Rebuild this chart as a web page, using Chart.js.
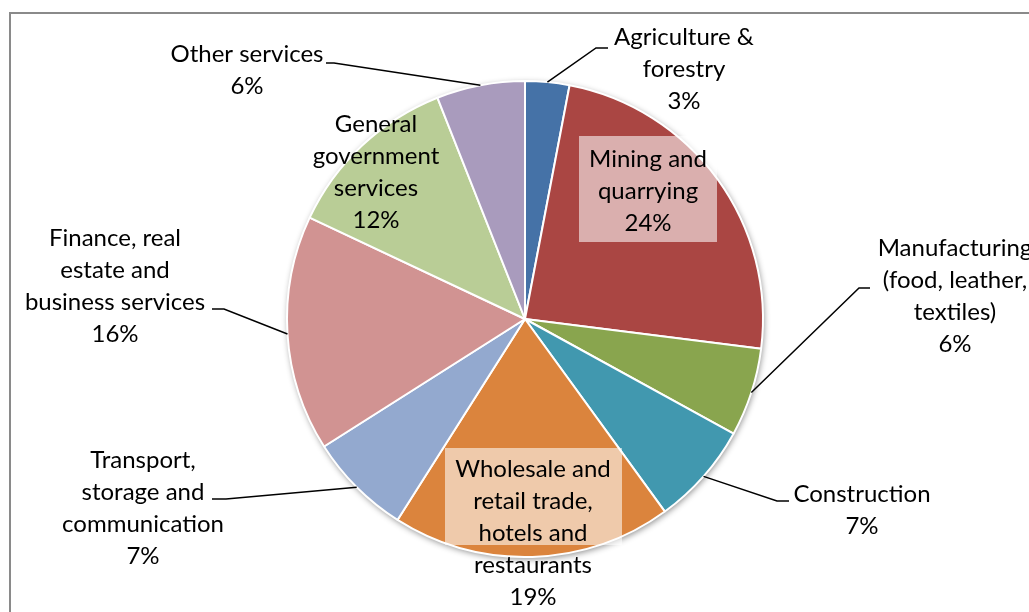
<!DOCTYPE html>
<html>
<head>
<meta charset="utf-8">
<title>Value added by sector</title>
<script src="https://cdn.jsdelivr.net/npm/chart.js@4.4.0/dist/chart.umd.min.js"></script>
<style>
  html, body { margin: 0; padding: 0; background: #fff; }
  canvas { display: block; }
</style>
</head>
<body>
<canvas id="chart" width="1029" height="612"></canvas>
<script>
'use strict';

// sectors and their share of the total (%)
const sectors = [
  'Agriculture & forestry',
  'Mining and quarrying',
  'Manufacturing (food, leather, textiles)',
  'Construction',
  'Wholesale and retail trade, hotels and restaurants',
  'Transport, storage and communication',
  'Finance, real estate and business services',
  'General government services',
  'Other services'
];
const shares = [3, 24, 6, 7, 19, 7, 16, 12, 6];

// how each sector name is broken over lines in its label
const labelLines = [
  ['Agriculture &', 'forestry'],
  ['Mining and', 'quarrying'],
  ['Manufacturing', '(food, leather,', 'textiles)'],
  ['Construction'],
  ['Wholesale and', 'retail trade,', 'hotels and', 'restaurants'],
  ['Transport,', 'storage and', 'communication'],
  ['Finance, real', 'estate and', 'business services'],
  ['General', 'government', 'services'],
  ['Other services']
];

const sliceColors = [
  '#4572A7', '#AA4643', '#89A54E', '#4198AF', '#DB843D',
  '#93A9CF', '#D19392', '#B9CD96', '#A99BBD'
];

// where each label sits: centre x, first line y, optional box, optional leader (elbow, end)
const labelLayout = [
  { cx: 684, y: 37, leader: [[596, 48], [608, 48]] },
  { cx: 648, y: 159, box: [579, 136, 138, 106] },
  { cx: 955, y: 248, leader: [[859, 288], [870, 288]] },
  { cx: 862, y: 494, leader: [[777, 501], [789, 501]] },
  { cx: 533, y: 469, box: [445, 448, 177, 97] },
  { cx: 143, y: 460, leader: [[226, 499], [212, 499]] },
  { cx: 115, y: 238, leader: [[224, 309], [212, 309]] },
  { cx: 376, y: 124 },
  { cx: 247, y: 54, leader: [[334, 63], [326, 63]] }
];

const LINE_H = 32;
const FONT = '24px Lato, "Open Sans", sans-serif';

// grey frame round the chart and a soft shadow under the pie
const framePlugin = {
  id: 'frame',
  beforeDatasetsDraw(chart) {
    const ctx = chart.ctx;
    ctx.save();
    ctx.strokeStyle = '#8a8a8a';
    ctx.lineWidth = 2;
    ctx.strokeRect(10, 13, 1100, 700);
    const arc = chart.getDatasetMeta(0).data[0];
    const p = arc.getProps(['x', 'y', 'outerRadius'], true);
    ctx.beginPath();
    ctx.arc(p.x, p.y, p.outerRadius, 0, Math.PI * 2);
    ctx.fillStyle = '#ffffff';
    ctx.shadowColor = 'rgba(0,0,0,0.45)';
    ctx.shadowBlur = 6;
    ctx.shadowOffsetX = 1;
    ctx.shadowOffsetY = 2;
    ctx.fill();
    ctx.restore();
  }
};

const labelPlugin = {
  id: 'sliceLabels',
  afterDatasetsDraw(chart) {
    const ctx = chart.ctx;
    const arcs = chart.getDatasetMeta(0).data;
    ctx.save();
    ctx.font = FONT;
    ctx.textAlign = 'center';
    ctx.textBaseline = 'middle';
    arcs.forEach((arc, i) => {
      const lay = labelLayout[i];
      const p = arc.getProps(['x', 'y', 'startAngle', 'endAngle', 'outerRadius'], true);
      if (lay.leader) {
        const mid = (p.startAngle + p.endAngle) / 2;
        ctx.beginPath();
        ctx.moveTo(p.x + Math.cos(mid) * p.outerRadius, p.y + Math.sin(mid) * p.outerRadius);
        lay.leader.forEach(pt => ctx.lineTo(pt[0], pt[1]));
        ctx.strokeStyle = '#000';
        ctx.lineWidth = 1.5;
        ctx.stroke();
      }
      if (lay.box) {
        ctx.fillStyle = 'rgba(255,255,255,0.57)';
        ctx.fillRect(lay.box[0], lay.box[1], lay.box[2], lay.box[3]);
      }
      const lines = labelLines[i].concat([shares[i] + '%']);
      ctx.fillStyle = '#000';
      lines.forEach((t, k) => ctx.fillText(t, lay.cx, lay.y + k * LINE_H));
    });
    ctx.restore();
  }
};

new Chart(document.getElementById('chart'), {
  type: 'pie',
  data: {
    labels: sectors,
    datasets: [{
      data: shares,
      backgroundColor: sliceColors,
      borderColor: '#ffffff',
      borderWidth: 2
    }]
  },
  options: {
    responsive: false,
    animation: false,
    layout: { padding: { top: 80, bottom: 54, left: 21, right: 0 } },
    plugins: {
      legend: { display: false },
      tooltip: { enabled: false }
    }
  },
  plugins: [framePlugin, labelPlugin]
});
</script>
</body>
</html>
